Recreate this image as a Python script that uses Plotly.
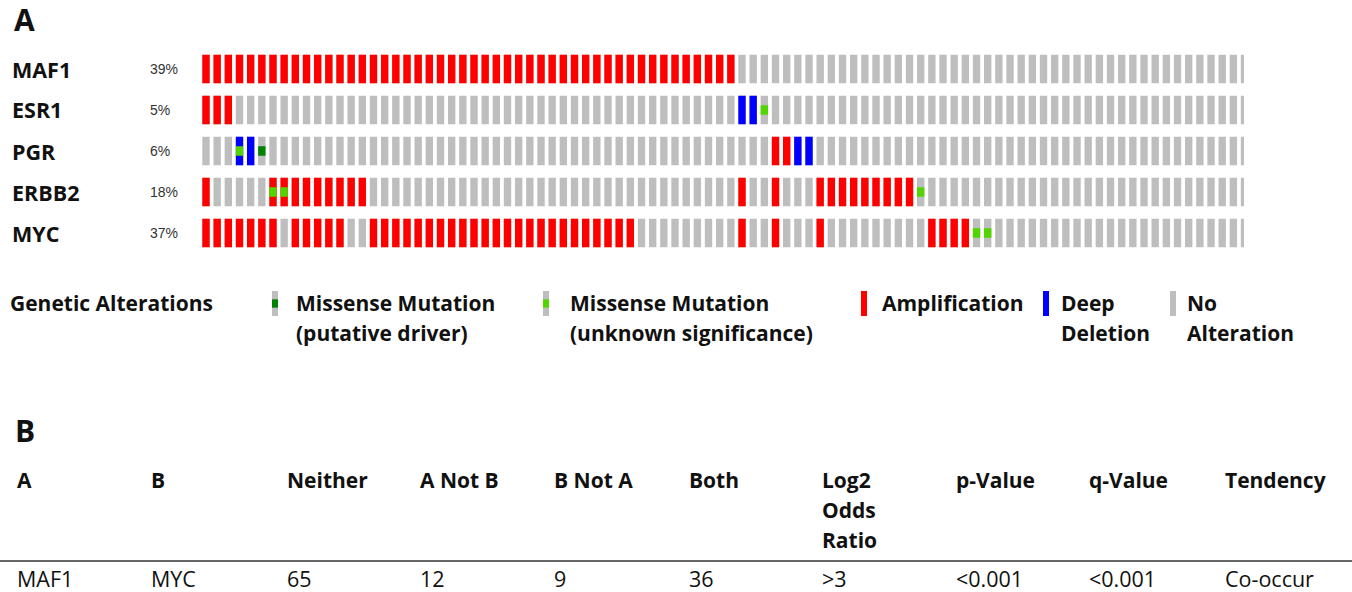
import plotly.graph_objects as go

# ---------------- data ----------------
GENES = ["MAF1", "ESR1", "PGR", "ERBB2", "MYC"]
PERCENT_LABELS = ["39%", "5%", "6%", "18%", "37%"]
N_SAMPLES = 122
# codes per sample: '.' no alteration, 'A' amplification, 'D' deep deletion,
# 'm' missense (unknown significance), 'M' missense (putative driver),
# 'a' amplification + missense (unknown), 'd' deep deletion + missense (unknown)
TRACK_MAF1 = ["AAAAAAAAAA", "AAAAAAAAAA", "AAAAAAAAAA", "AAAAAAAAAA", "AAAAAAAA..",
              "..........", "..........", "..........", "..........", "..........",
              "..........", "..........", ".."]
TRACK_ESR1 = ["AAA.......", "..........", "..........", "..........", "........DD",
              "m.........", "..........", "..........", "..........", "..........",
              "..........", "..........", ".."]
TRACK_PGR = ["...dDM....", "..........", "..........", "..........", "..........",
             ".AADD.....", "..........", "..........", "..........", "..........",
             "..........", "..........", ".."]
TRACK_ERBB2 = ["A.....aaAA", "AAAAA.....", "..........", "..........", "........A.",
               ".A...AAAAA", "AAAAm.....", "..........", "..........", "..........",
               "..........", "..........", ".."]
TRACK_MYC = ["AAAAAAA.AA", "AAA..AAAAA", "AAAAAAAAAA", "AAAAAAAAA.", "........A.",
             ".A...A....", ".....AAAAm", "m.........", "..........", "..........",
             "..........", "..........", ".."]
TRACKS = [TRACK_MAF1, TRACK_ESR1, TRACK_PGR, TRACK_ERBB2, TRACK_MYC]

LEGEND_TITLE = "Genetic Alterations"
LEGEND_ITEMS = [("M", "Missense Mutation", "(putative driver)"),
                ("m", "Missense Mutation", "(unknown significance)"),
                ("A", "Amplification", ""),
                ("D", "Deep", "Deletion"),
                (".", "No", "Alteration")]

TABLE_HEADERS = [["A"], ["B"], ["Neither"], ["A Not B"], ["B Not A"], ["Both"],
                 ["Log2", "Odds", "Ratio"], ["p-Value"], ["q-Value"], ["Tendency"]]
TABLE_ROW = ["MAF1", "MYC", "65", "12", "9", "36", "&gt;3", "&lt;0.001", "&lt;0.001", "Co-occur"]

# ---------------- style ----------------
W, H = 1352, 592
C_GRAY = "#BEBEBE"
C_RED = "#FF0000"
C_BLUE = "#0000FF"
C_LGREEN = "#53D400"
C_DGREEN = "#008000"
FONT = "Open Sans"
PITCH = 11.167
COL0_CENTER = 206.0
ROW0_CENTER = 69.0
ROW_PITCH = 41.0
BAR_H = 28.5 / ROW_PITCH
MUT_H = BAR_H / 3.0
BAR_W = 0.66


def px(x):
    return x / W


def py(y):
    return 1 - y / H


tracks = ["".join(t) for t in TRACKS]

cells = {"gray": ([], [], []), "red": ([], [], []), "blue": ([], [], []),
         "lgreen": ([], [], []), "dgreen": ([], [], [])}


def add(kind, x, row, h):
    xs, bs, hs = cells[kind]
    xs.append(x)
    bs.append(row - h / 2)
    hs.append(h)


for r, t in enumerate(tracks):
    for i, c in enumerate(t):
        add("gray", i, r, BAR_H)
        if c in "Aa":
            add("red", i, r, BAR_H)
        if c in "Dd":
            add("blue", i, r, BAR_H)
        if c in "mad":
            add("lgreen", i, r, MUT_H)
        if c == "M":
            add("dgreen", i, r, MUT_H)

colors = {"gray": C_GRAY, "red": C_RED, "blue": C_BLUE, "lgreen": C_LGREEN, "dgreen": C_DGREEN}
fig = go.Figure()
for kind in ["gray", "red", "blue", "lgreen", "dgreen"]:
    xs, bs, hs = cells[kind]
    fig.add_trace(go.Bar(x=xs, y=hs, base=bs, width=BAR_W,
                         marker=dict(color=colors[kind], line=dict(width=0)),
                         hoverinfo="skip", showlegend=False))

x_left, x_right = 200, 1244
y_top, y_bot = ROW0_CENTER - ROW_PITCH / 2, ROW0_CENTER + ROW_PITCH * 4.5
fig.update_layout(
    width=W, height=H, autosize=False,
    margin=dict(l=0, r=0, t=0, b=0),
    paper_bgcolor="white", plot_bgcolor="white",
    barmode="overlay",
    xaxis=dict(domain=[px(x_left), px(x_right)],
               range=[(x_left - COL0_CENTER) / PITCH, (x_right - COL0_CENTER) / PITCH],
               visible=False, fixedrange=True),
    yaxis=dict(domain=[py(y_bot), py(y_top)], range=[4.5, -0.5],
               visible=False, fixedrange=True),
)

ann = []


def text(x, y, s, size, bold=False, color="#111", family=FONT, anchor="left"):
    ann.append(dict(x=px(x), y=py(y), xref="paper", yref="paper", text=s,
                    showarrow=False, xanchor=anchor, yanchor="middle", borderpad=0,
                    font=dict(family=family, size=size, color=color,
                              weight="bold" if bold else "normal")))


# panel letters
text(13, 20, "A", 30, bold=True)
text(14, 430, "B", 30, bold=True)

# gene labels and percentages
for r, (g, p) in enumerate(zip(GENES, PERCENT_LABELS)):
    yc = ROW0_CENTER + r * ROW_PITCH
    text(11, yc, g, 21.5, bold=True)
    text(149, yc, p, 14, color="#333", family="Arial, Liberation Sans")

# legend
LEG_Y1, LEG_Y2 = 303, 333
LEG_SIZE = 21
text(9, LEG_Y1, LEGEND_TITLE, LEG_SIZE, bold=True)
icon_x = [272, 543, 861, 1043, 1170]
text_x = [295, 569, 881, 1060, 1186]
shapes = []
for (code, l1, l2), ix, tx in zip(LEGEND_ITEMS, icon_x, text_x):
    y0, y1 = 291, 316
    base_col = {"A": C_RED, "D": C_BLUE}.get(code, C_GRAY)
    shapes.append(dict(type="rect", xref="paper", yref="paper", x0=px(ix), x1=px(ix + 6),
                       y0=py(y1), y1=py(y0), fillcolor=base_col, line=dict(width=0)))
    if code in "mM":
        gc = C_DGREEN if code == "M" else C_LGREEN
        hh = (y1 - y0) / 3
        shapes.append(dict(type="rect", xref="paper", yref="paper", x0=px(ix), x1=px(ix + 6),
                           y0=py(y0 + 2 * hh), y1=py(y0 + hh), fillcolor=gc, line=dict(width=0)))
    text(tx, LEG_Y1, l1, LEG_SIZE, bold=True)
    if l2:
        text(tx, LEG_Y2, l2, LEG_SIZE, bold=True)

# table
col_x = [16, 150, 286, 419, 553, 688, 821, 955, 1088, 1224]
for cx, hdr in zip(col_x, TABLE_HEADERS):
    for k, line in enumerate(hdr):
        text(cx, 480 + 30 * k, line, 21, bold=True)
for cx, v in zip(col_x, TABLE_ROW):
    text(cx, 578, v, 21.5)
shapes.append(dict(type="line", xref="paper", yref="paper", x0=0, x1=1,
                   y0=py(561), y1=py(561), line=dict(color="#333", width=1.5)))

fig.update_layout(annotations=ann, shapes=shapes)

fig.write_html("out.html", config={"staticPlot": True},
               post_script="document.body.style.margin='0';document.body.style.overflow='hidden';")
